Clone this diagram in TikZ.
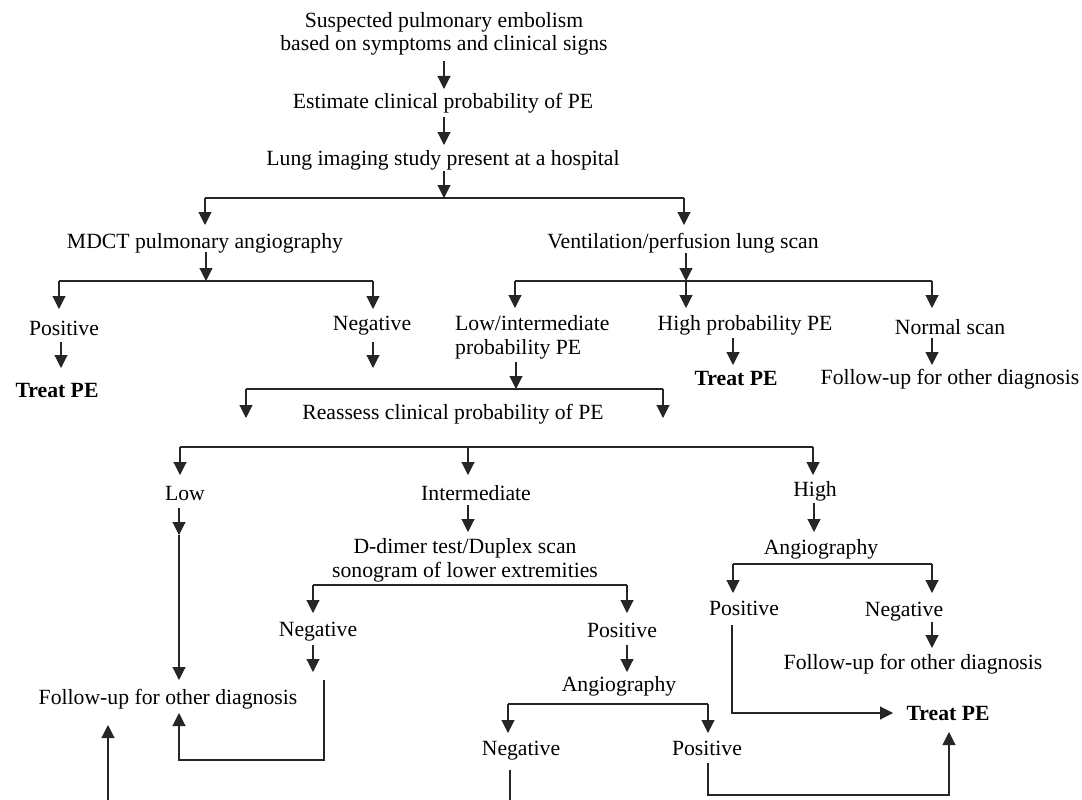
\documentclass[tikz,border=0pt]{standalone}
\usepackage{fontspec}
\setmainfont{Liberation Serif}
\usetikzlibrary{arrows.meta}
\begin{document}
\begin{tikzpicture}[x=1pt,y=-1pt,
  t/.style={font=\fontsize{21.7}{24}\selectfont, inner sep=0pt, anchor=base},
  tb/.style={t, font=\fontsize{21.7}{24}\selectfont\bfseries},
  ln/.style={line width=1.1pt, draw=black!85},
  arr/.style={ln, -{Triangle[length=13pt,width=13pt]}}]
\useasboundingbox[fill=white] (0,0) rectangle (1082,800);
% nodes (for two-line nodes the base anchor is the last line's baseline)
\node[t, align=center] (susp) at (444,51) {Suspected pulmonary embolism\\[-1pt]based on symptoms and clinical signs};
\node[t] (est) at (443,108) {Estimate clinical probability of PE};
\node[t] (lung) at (443,165) {Lung imaging study present at a hospital};
\node[t] (mdct) at (205,248) {MDCT pulmonary angiography};
\node[t] (vp) at (683,248) {Ventilation/perfusion lung scan};
\node[t] (pos1) at (64,335) {Positive};
\node[t] (neg1) at (372,330) {Negative};
\node[t, align=left, anchor=base west] (lowint) at (455,354) {Low/intermediate\\probability PE};
\node[t] (highp) at (745,330) {High probability PE};
\node[t] (normal) at (950,334) {Normal scan};
\node[tb] (treat1) at (57,397) {Treat PE};
\node[tb] (treat2) at (736,385) {Treat PE};
\node[t] (follow1) at (950,384) {Follow-up for other diagnosis};
\node[t] (reass) at (453,419) {Reassess clinical probability of PE};
\node[t] (low) at (185,500) {Low};
\node[t] (interm) at (476,500) {Intermediate};
\node[t] (high) at (815,496) {High};
\node[t, align=center] (ddim) at (465,577) {D-dimer test/Duplex scan\\sonogram of lower extremities};
\node[t] (angioH) at (821,554) {Angiography};
\node[t] (posH) at (744,615) {Positive};
\node[t] (negH) at (904,616) {Negative};
\node[t] (negD) at (318,636) {Negative};
\node[t] (posD) at (622,637) {Positive};
\node[t] (followH) at (913,669) {Follow-up for other diagnosis};
\node[t] (angio2) at (619,691) {Angiography};
\node[t] (followL) at (168,704) {Follow-up for other diagnosis};
\node[tb] (treat3) at (948,720) {Treat PE};
\node[t] (negA) at (521,755) {Negative};
\node[t] (posA) at (707,755) {Positive};
% junction coordinates
\coordinate (b1l) at (205,198); \coordinate (b1r) at (684,198);
\coordinate (b2l) at (59,281); \coordinate (b2r) at (373,281);
\coordinate (b3l) at (515,281); \coordinate (b3r) at (932,281);
\coordinate (b4l) at (246,389); \coordinate (b4r) at (663,389);
\coordinate (b5l) at (180,447); \coordinate (b5r) at (813,447);
\coordinate (b6l) at (313,585); \coordinate (b6r) at (627,585);
\coordinate (b7l) at (733,564); \coordinate (b7r) at (932,564);
\coordinate (b8l) at (508,704); \coordinate (b8r) at (708,704);
% connectors
\draw[arr] (444,61) -- (444,89);
\draw[arr] (444,117) -- (444,145);
\draw[arr] (444,171) -- (444,198);
\draw[ln] (b1l) -- (b1r);
\draw[arr] (b1l) -- (205,225);
\draw[arr] (b1r) -- (684,225);
\draw[arr] (206,252) -- (206,281);
\draw[ln] (b2l) -- (b2r);
\draw[arr] (b2l) -- (59,309);
\draw[arr] (b2r) -- (373,309);
\draw[arr] (61,342) -- (61,368);
\draw[arr] (373,342) -- (373,368);
\draw[arr] (686,253) -- (686,281);
\draw[ln] (b3l) -- (b3r);
\draw[arr] (b3l) -- (515,308);
\draw[arr] (686,281) -- (686,308);
\draw[arr] (b3r) -- (932,308);
\draw[arr] (733,338) -- (733,365);
\draw[arr] (932,338) -- (932,365);
\draw[arr] (516,362) -- (516,389);
\draw[ln] (b4l) -- (b4r);
\draw[arr] (b4l) -- (246,418);
\draw[arr] (b4r) -- (663,418);
\draw[ln] (b5l) -- (b5r);
\draw[arr] (b5l) -- (180,475);
\draw[arr] (468,447) -- (468,475);
\draw[arr] (b5r) -- (813,475);
\draw[arr] (179,508) -- (179,535);
\draw[arr] (179,535) -- (179,680);
\draw[arr] (468,505) -- (468,532);
\draw[arr] (814,503) -- (814,532);
\draw[ln] (b6l) -- (b6r);
\draw[arr] (b6l) -- (313,613);
\draw[arr] (b6r) -- (627,613);
\draw[ln] (b7l) -- (b7r);
\draw[arr] (b7l) -- (733,593);
\draw[arr] (b7r) -- (932,593);
\draw[arr] (313,645) -- (313,672);
\draw[arr] (627,645) -- (627,672);
\draw[arr] (932,622) -- (932,648);
\draw[arr] (324,680) -- (324,760) -- (179,760) -- (179,713);
\draw[arr] (108,800) -- (108,725);
\draw[ln] (b8l) -- (b8r);
\draw[arr] (b8l) -- (508,733);
\draw[arr] (b8r) -- (708,733);
\draw[ln] (510,770) -- (510,800);
\draw[arr] (708,763) -- (708,795) -- (949,795) -- (949,732);
\draw[arr] (732,625) -- (732,713) -- (893,713);
\end{tikzpicture}
\end{document}
